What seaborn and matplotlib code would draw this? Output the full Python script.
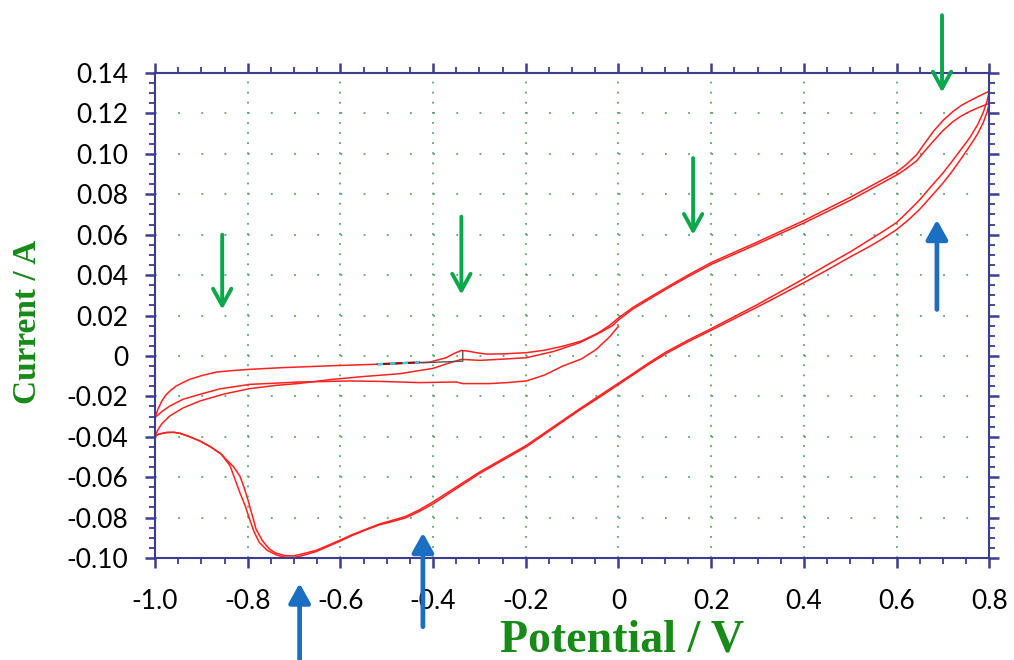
import numpy as np
import pandas as pd
import matplotlib
matplotlib.use('Agg')
import matplotlib.pyplot as plt
import seaborn as sns

# cyclic voltammogram (potential in V, current in A)
# initial scan 0 -> -1.0
init_v = [0.0, -0.019, -0.048, -0.08, -0.12, -0.16, -0.199, -0.24, -0.278, -0.336,
          -0.35, -0.429, -0.472, -0.516, -0.58, -0.688, -0.796, -0.86, -0.903, -0.94,
          -0.968, -0.985, -1.0]
init_i = [0.0147, 0.0095, 0.0032, -0.0015, -0.005, -0.0095, -0.0124, -0.0132, -0.0137, -0.0137,
          -0.0129, -0.0132, -0.0129, -0.0126, -0.0124, -0.0129, -0.0141, -0.0163, -0.019, -0.0215,
          -0.0248, -0.0275, -0.0305]

# first forward scan -1.0 -> 0.8
fwd1_v = [-1.0, -0.993, -0.985, -0.977, -0.968, -0.955, -0.94, -0.925, -0.9, -0.868,
          -0.835, -0.8, -0.725, -0.6, -0.516, -0.408, -0.372, -0.355, -0.339, -0.325,
          -0.307, -0.285, -0.25, -0.199, -0.16, -0.12, -0.08, -0.045, -0.02, 0.0,
          0.031, 0.06, 0.103, 0.15, 0.2, 0.298, 0.402, 0.5, 0.6, 0.62,
          0.643, 0.66, 0.679, 0.70, 0.722, 0.74, 0.76, 0.78, 0.8]
fwd1_i = [-0.0305, -0.026, -0.0222, -0.0195, -0.0174, -0.015, -0.0132, -0.0116, -0.0098, -0.008,
          -0.0073, -0.0067, -0.0058, -0.0047, -0.0041, -0.0031, -0.0009, 0.0012, 0.0027, 0.0024,
          0.0016, 0.0009, 0.001, 0.0016, 0.0028, 0.0048, 0.0074, 0.0112, 0.0150, 0.0188,
          0.0240, 0.0280, 0.0338, 0.0400, 0.0462, 0.0562, 0.0672, 0.0785, 0.0910, 0.0945,
          0.0995, 0.1050, 0.1110, 0.1165, 0.1210, 0.1240, 0.1265, 0.1288, 0.1310]

# first reverse scan 0.8 -> -1.0
rev1_v = [0.8, 0.795, 0.787, 0.775, 0.758, 0.74, 0.722, 0.70, 0.675, 0.65,
          0.625, 0.6, 0.57, 0.542, 0.5, 0.45, 0.402, 0.35, 0.298, 0.2,
          0.15, 0.103, 0.065, 0.031, -0.04, -0.084, -0.199, -0.3, -0.4, -0.43,
          -0.46, -0.49, -0.516, -0.544, -0.575, -0.602, -0.652, -0.688, -0.703, -0.72,
          -0.74, -0.753, -0.768, -0.782, -0.79, -0.8, -0.808, -0.817, -0.83, -0.847,
          -0.857, -0.88, -0.903, -0.925, -0.946, -0.96, -0.975, -0.99, -1.0]
rev1_i = [0.131, 0.126, 0.1205, 0.1145, 0.108, 0.1025, 0.097, 0.0905, 0.084, 0.0773,
          0.0715, 0.066, 0.0615, 0.0575, 0.0515, 0.045, 0.0385, 0.0318, 0.0252, 0.0135,
          0.0078, 0.002, -0.0035, -0.0088, -0.0195, -0.0262, -0.0443, -0.0575, -0.0722, -0.0762,
          -0.0795, -0.0815, -0.0832, -0.0857, -0.0885, -0.0913, -0.0962, -0.0983, -0.099, -0.0988,
          -0.0975, -0.0956, -0.0915, -0.0857, -0.079, -0.0709, -0.065, -0.0594, -0.055, -0.0511,
          -0.0486, -0.045, -0.0421, -0.040, -0.0383, -0.0378, -0.0379, -0.0386, -0.0396]

# second forward scan -1.0 -> 0.8
fwd2_v = [-1.0, -0.993, -0.985, -0.968, -0.94, -0.903, -0.85, -0.796, -0.74, -0.688,
          -0.617, -0.55, -0.472, -0.401, -0.364, -0.339, -0.299, -0.25, -0.199, -0.14,
          -0.084, -0.04, -0.013, 0.0, 0.031, 0.06, 0.103, 0.15, 0.2, 0.298,
          0.402, 0.5, 0.6, 0.62, 0.643, 0.66, 0.679, 0.70, 0.722, 0.74,
          0.76, 0.78, 0.8]
fwd2_i = [-0.0396, -0.0362, -0.0335, -0.0297, -0.0258, -0.0223, -0.0188, -0.0162, -0.0146, -0.0136,
          -0.0116, -0.0102, -0.0088, -0.0062, -0.0034, -0.0017, -0.0022, -0.0016, -0.0009, 0.0022,
          0.0065, 0.0115, 0.0150, 0.0178, 0.0232, 0.0272, 0.0331, 0.0392, 0.0453, 0.0552,
          0.0660, 0.0770, 0.0895, 0.0925, 0.0965, 0.1012, 0.1062, 0.1115, 0.1160, 0.1188,
          0.1212, 0.1232, 0.1250]

# second reverse scan 0.8 -> -1.0
rev2_v = [0.8, 0.795, 0.787, 0.775, 0.765, 0.745, 0.722, 0.70, 0.675, 0.65,
          0.625, 0.6, 0.57, 0.542, 0.5, 0.45, 0.402, 0.35, 0.298, 0.2,
          0.15, 0.103, 0.065, 0.031, -0.04, -0.084, -0.199, -0.3, -0.4, -0.43,
          -0.46, -0.49, -0.516, -0.544, -0.575, -0.602, -0.652, -0.688, -0.703, -0.72,
          -0.738, -0.758, -0.775, -0.786, -0.796, -0.806, -0.817, -0.838, -0.857, -0.88,
          -0.903, -0.925, -0.946, -0.96, -0.975, -0.99, -1.0]
rev2_i = [0.125, 0.1205, 0.1155, 0.110, 0.1063, 0.0995, 0.092, 0.0855, 0.079, 0.0726,
          0.0672, 0.0625, 0.058, 0.0542, 0.049, 0.0425, 0.0365, 0.0302, 0.024, 0.0127,
          0.0070, 0.0012, -0.0042, -0.0094, -0.0203, -0.0268, -0.045, -0.0582, -0.0732, -0.0770,
          -0.0802, -0.0821, -0.0836, -0.086, -0.0889, -0.0918, -0.0968, -0.0992, -0.0998, -0.0996,
          -0.0985, -0.0962, -0.0923, -0.0872, -0.0807, -0.0738, -0.0676, -0.0544, -0.0486, -0.045,
          -0.0421, -0.040, -0.0383, -0.0378, -0.0379, -0.0386, -0.0396]

# little cursor marks left on the trace
cursor_v = [-0.425, -0.336, -0.336]
cursor_i = [-0.0034, -0.0026, 0.0027]
mark_v = [-0.52, -0.43]
mark_i = [-0.0041, -0.0032]

# arrows (x, tail, tip)
green_x = [-0.855, -0.339, 0.161, 0.698]
green_tail = [0.060, 0.0689, 0.0979, 0.1686]
green_tip = [0.023, 0.0304, 0.060, 0.1304]
blue_x = [-0.688, -0.422, 0.687]
blue_tail = [-0.151, -0.134, 0.023]
blue_tip = [-0.1125, -0.0875, 0.0674]

xticks = [-1.0, -0.8, -0.6, -0.4, -0.2, 0.0, 0.2, 0.4, 0.6, 0.8]
xlabels = ['-1.0', '-0.8', '-0.6', '-0.4', '-0.2', '0', '0.2', '0.4', '0.6', '0.8']
yticks = [-0.10, -0.08, -0.06, -0.04, -0.02, 0.0, 0.02, 0.04, 0.06, 0.08, 0.10, 0.12, 0.14]
ylabels = ['-0.10', '-0.08', '-0.06', '-0.04', '-0.02', '0', '0.02', '0.04', '0.06',
           '0.08', '0.10', '0.12', '0.14']

segments = [('init', init_v, init_i), ('fwd1', fwd1_v, fwd1_i), ('rev1', rev1_v, rev1_i),
            ('fwd2', fwd2_v, fwd2_i), ('rev2', rev2_v, rev2_i)]
df = pd.concat([pd.DataFrame({'scan': name, 'potential': v, 'current': i})
                for name, v, i in segments], ignore_index=True)

sns.set_style('white')
plt.rcParams['font.family'] = ['Lato', 'DejaVu Sans']
plt.rcParams['axes.unicode_minus'] = False
plt.rcParams['lines.scale_dashes'] = False

frame = '#3c3c92'
fig = plt.figure(figsize=(10.14, 6.6), dpi=100)
ax = fig.add_axes([155 / 1014, 1 - 558 / 660, (989.3 - 155) / 1014, (558 - 73) / 660])

sns.lineplot(data=df, x='potential', y='current', units='scan', estimator=None, sort=False,
             color='#ff2020', lw=1.1, ax=ax, legend=False)
ax.plot(mark_v, mark_i, color='#8b1010', lw=1.6)
ax.plot(mark_v, mark_i, color='#22d8e8', lw=1.6, linestyle=(0, (4, 5)))
ax.plot(cursor_v, cursor_i, color='#555555', lw=1.0)

ax.set_xlim(-1.0, 0.8)
ax.set_ylim(-0.10, 0.14)
ax.set_xticks(xticks, xlabels)
ax.set_yticks(yticks, ylabels)
ax.set_xticks(np.arange(-1.0, 0.81, 0.05), minor=True)
ax.set_yticks(np.arange(-0.10, 0.1401, 0.005), minor=True)
ax.set_xlabel('')
ax.set_ylabel('')

# dotted grid: one dot at every minor step
ax.set_axisbelow(True)
ax.xaxis.grid(True, which='major', color='#5aa470', lw=1.3, linestyle=(0, (1.3, 5.97)))
ax.yaxis.grid(True, which='major', color='#5aa470', lw=1.3, linestyle=(0, (1.3, 15.39)))

for s in ax.spines.values():
    s.set_visible(True)
    s.set_color(frame)
    s.set_linewidth(1.5)
ax.tick_params(which='both', direction='out', colors=frame, top=True, right=True,
               bottom=True, left=True)
ax.tick_params(which='major', length=7, width=1.8, labelsize=19, labelcolor='black')
ax.tick_params(which='minor', length=4, width=1.3)
ax.tick_params(axis='x', which='major', pad=15)
ax.tick_params(axis='y', which='major', pad=12)

for x, t0, t1 in zip(green_x, green_tail, green_tip):
    ax.annotate('', xy=(x, t1), xytext=(x, t0), annotation_clip=False,
                arrowprops=dict(arrowstyle='->,head_length=0.4,head_width=0.22',
                                color='#0aa84a', lw=2.8, mutation_scale=30,
                                shrinkA=0, shrinkB=0))
for x, t0, t1 in zip(blue_x, blue_tail, blue_tip):
    ax.annotate('', xy=(x, t1), xytext=(x, t0), annotation_clip=False,
                arrowprops=dict(arrowstyle='-|>,head_length=0.45,head_width=0.25',
                                color='#1a6fc2', lw=3.4, mutation_scale=26,
                                shrinkA=0, shrinkB=0))

fig.text(28 / 1014, 1 - 322 / 660, 'Current / A', rotation=90, ha='center', va='center',
         fontsize=24, fontweight='bold', family='Liberation Serif', color='#188a18')
fig.text(622 / 1014, 1 - 641 / 660, 'Potential / V', ha='center', va='center',
         fontsize=33, fontweight='bold', family='Liberation Serif', color='#188a18')

fig.savefig('out.png', dpi=100)
